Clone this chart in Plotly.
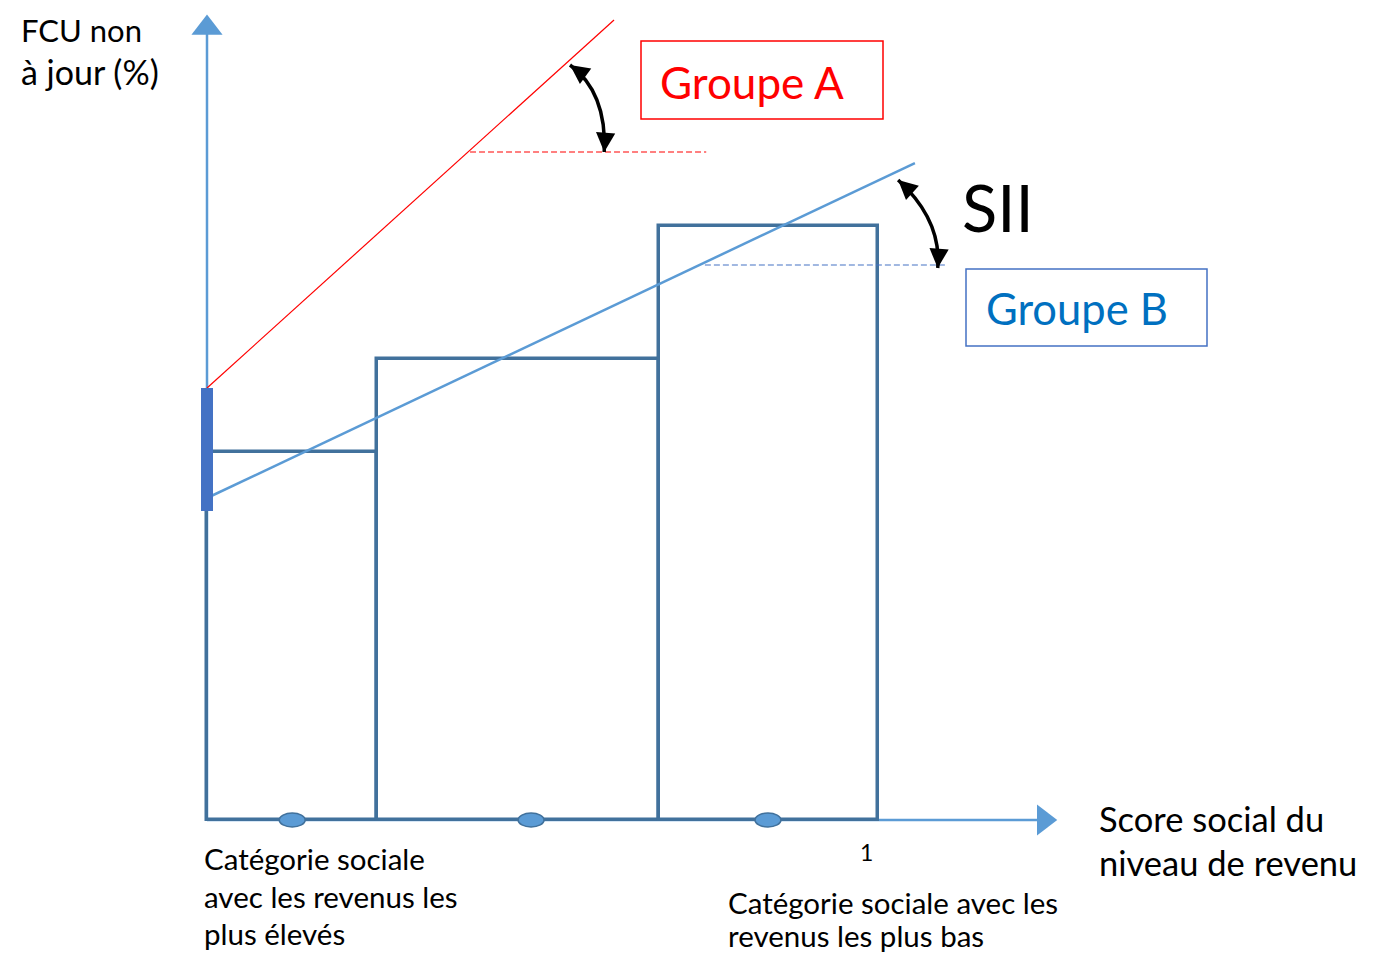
import plotly.graph_objects as go

# ---------------- data ----------------
bar_edges = [0.0, 0.253, 0.674, 1.0]          # cumulative population share (ridit)
bar_heights = [36.8, 46.1, 59.4]               # FCU non à jour (%)
dot_x = [0.127, 0.483, 0.836]                  # mid-points of the categories

lineB_intercept, lineB_slope, lineB_xend = 32.2, 31.75, 1.055
lineA_intercept, lineA_slope, lineA_xend = 43.2, 60.67, 0.6066
dashA_y, dashA_x = 66.8, [0.392, 0.744]
dashB_y, dashB_x = 55.5, [0.742, 1.100]
ci_low, ci_high = 30.9, 43.2

y_axis_top = 79.2
x_axis_end = 1.247

# curved angle arrows: start, control, end (data units)
arcA = [(0.541, 75.5), (0.596, 72.8), (0.592, 66.8)]
arcB = [(1.030, 64.0), (1.095, 60.0), (1.089, 55.2)]

W, H = 1383, 953
OFF = 8  # page body margin
DARK = "#41719C"
LIGHT = "#5B9BD5"
FONT = "Lato"

fig = go.Figure()

# bars (outlines only)
centers = [(bar_edges[i] + bar_edges[i + 1]) / 2 for i in range(3)]
widths = [bar_edges[i + 1] - bar_edges[i] for i in range(3)]
fig.add_trace(go.Bar(x=centers, y=bar_heights, width=widths,
                     marker=dict(color="rgba(0,0,0,0)", line=dict(color=DARK, width=3.5)),
                     hoverinfo="skip"))

# axis arrowheads
fig.add_trace(go.Scatter(x=[0], y=[y_axis_top], mode="markers",
                         marker=dict(symbol="triangle-up", size=27, color=LIGHT)))
fig.add_trace(go.Scatter(x=[x_axis_end], y=[0], mode="markers",
                         marker=dict(symbol="triangle-right", size=27, color=LIGHT)))

# group A line
fig.add_trace(go.Scatter(x=[0, lineA_xend],
                         y=[lineA_intercept, lineA_intercept + lineA_slope * lineA_xend],
                         mode="lines", line=dict(color="#FF0000", width=1.2)))
# group B line
fig.add_trace(go.Scatter(x=[0, lineB_xend],
                         y=[lineB_intercept, lineB_intercept + lineB_slope * lineB_xend],
                         mode="lines", line=dict(color=LIGHT, width=2.5)))
# dashed reference lines
fig.add_trace(go.Scatter(x=dashA_x, y=[dashA_y, dashA_y], mode="lines",
                         line=dict(color="#FF0000", width=1.2, dash="6px,3px")))
fig.add_trace(go.Scatter(x=dashB_x, y=[dashB_y, dashB_y], mode="lines",
                         line=dict(color="#4472C4", width=1.2, dash="6px,3px")))
# intercept interval bar
fig.add_trace(go.Scatter(x=[0, 0], y=[ci_low, ci_high], mode="lines",
                         line=dict(color="#4472C4", width=12)))

shapes = []
# axis lines (below bars)
shapes.append(dict(type="line", xref="x", yref="y", x0=0, y0=0, x1=0, y1=y_axis_top,
                   line=dict(color=LIGHT, width=2.5), layer="below"))
shapes.append(dict(type="line", xref="x", yref="y", x0=0, y0=0, x1=x_axis_end, y1=0,
                   line=dict(color=LIGHT, width=2.5), layer="below"))
# dots on the x axis
for dx in dot_x:
    shapes.append(dict(type="circle", xref="x", yref="y", xsizemode="pixel", ysizemode="pixel",
                       xanchor=dx, yanchor=0, x0=-13, x1=13, y0=-7, y1=7,
                       fillcolor=LIGHT, line=dict(color=DARK, width=1.5)))
# curved arrows
for arc in (arcA, arcB):
    (x0, y0), (cx, cy), (x1, y1) = arc
    shapes.append(dict(type="path", xref="x", yref="y",
                       path=f"M {x0},{y0} Q {cx},{cy} {x1},{y1}",
                       line=dict(color="black", width=3.5)))

def px(x):
    return (x - OFF) / W

def py(y):
    return 1 - (y - OFF) / H

# text boxes
shapes.append(dict(type="rect", xref="paper", yref="paper", x0=px(641), x1=px(883),
                   y0=py(119), y1=py(41), line=dict(color="#FF0000", width=1.5)))
shapes.append(dict(type="rect", xref="paper", yref="paper", x0=px(966), x1=px(1207),
                   y0=py(346), y1=py(269), line=dict(color="#4472C4", width=1.5)))

annotations = []

def txt(text, x, y, size, color="black", xanchor="left"):
    annotations.append(dict(text=text, x=px(x), y=py(y), xref="paper", yref="paper",
                            xanchor=xanchor, yanchor="middle", showarrow=False,
                            font=dict(family=FONT, size=size, color=color)))

txt("FCU non", 19, 30, 31)
txt("à jour (%)", 19, 71, 34)
txt("Groupe A", 752, 82, 44, "#FF0000", "center")
txt("SII", 960, 207, 65)
txt("Groupe B", 1077, 308, 43.5, "#0070C0", "center")
txt("Score social du", 1097, 818, 34.5)
txt("niveau de revenu", 1097, 862, 34.5)
txt("Catégorie sociale", 202, 858, 29.5)
txt("avec les revenus les", 202, 896, 29.5)
txt("plus élevés", 202, 933, 29.5)
txt("Catégorie sociale avec les", 726, 902, 29.5)
txt("revenus les plus bas", 726, 935, 29.5)

annotations.append(dict(text="1", x=1.0, y=0, xref="x", yref="y", xanchor="center",
                        yanchor="middle", yshift=-32, xshift=-12, showarrow=False,
                        font=dict(family=FONT, size=23, color="black")))

# arrowheads of curved arrows
def head(pt, ax, ay):
    annotations.append(dict(x=pt[0], y=pt[1], xref="x", yref="y", ax=ax, ay=ay,
                            text="", showarrow=True, arrowhead=2, arrowsize=1.1,
                            arrowwidth=3.5, arrowcolor="black", standoff=0))

head(arcA[0], 11, 8)
head(arcA[2], 1, -14)
head(arcB[0], 10, 9)
head(arcB[2], 1, -14)

X0PIX, Y0PIX = 207 - OFF, 820 - OFF   # pixel position of data origin inside the figure
fig.update_layout(
    width=W, height=H, margin=dict(l=0, r=0, t=0, b=0),
    paper_bgcolor="white", plot_bgcolor="white", showlegend=False,
    xaxis=dict(range=[-X0PIX / 671, (W - X0PIX) / 671], visible=False, fixedrange=True),
    yaxis=dict(range=[(Y0PIX - H) / 10, Y0PIX / 10], visible=False, fixedrange=True),
    shapes=shapes, annotations=annotations, bargap=0,
)

fig.write_html("out.html")
